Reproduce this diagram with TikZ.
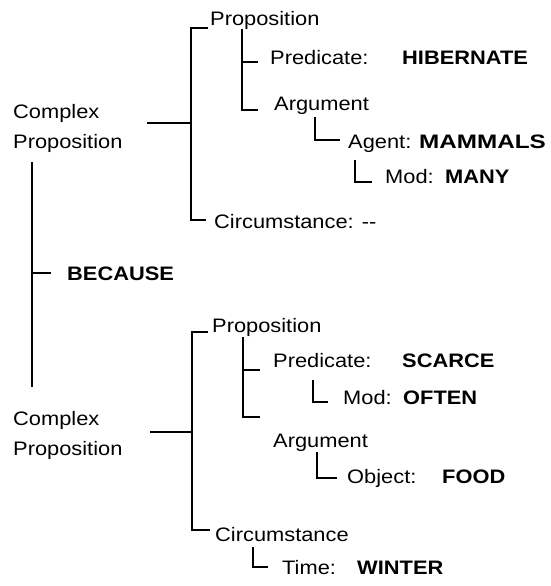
\documentclass[tikz,border=0pt]{standalone}
\usepackage{fontspec}
\setmainfont{Liberation Sans}[FakeStretch=1.12]
\begin{document}
\begin{tikzpicture}[x=1pt,y=-1pt,
  lbl/.style={anchor=base west,inner sep=0pt,font=\fontsize{19.5}{23}\selectfont},
  kw/.style={lbl,font=\fontsize{19.5}{23}\selectfont\bfseries},
  br/.style={line width=1.8pt,line cap=butt,line join=miter}]
\useasboundingbox (0,0) rectangle (551,586);
% ---------- upper half ----------
\node[lbl] (cp1a) at (13,118) {Complex};
\node[lbl] (cp1b) at (13,148) {Proposition};
\node[lbl] (prop1) at (210,26) {Proposition};
\node[lbl] (pred1) at (270,64) {Predicate:};
\node[kw]  (hib) at (402,64) {HIBERNATE};
\node[lbl] (arg1) at (274,110) {Argument};
\node[lbl] (agent) at (348,148) {Agent:};
\node[kw]  (mam) at (419,148) {\scalebox{1.11}[1]{MAMMALS}};
\node[lbl] (mod1) at (385,183) {Mod:};
\node[kw]  (many) at (445,183) {MANY};
\node[lbl] (circ1) at (214,228) {Circumstance: -{}-};
\node[kw]  (because) at (67,280) {BECAUSE};
% ---------- lower half ----------
\node[lbl] (cp2a) at (13,425) {Complex};
\node[lbl] (cp2b) at (13,455) {Proposition};
\node[lbl] (prop2) at (212,332) {Proposition};
\node[lbl] (pred2) at (273,367) {Predicate:};
\node[kw]  (scarce) at (402,367) {SCARCE};
\node[lbl] (mod2) at (343,404) {Mod:};
\node[kw]  (often) at (403,404) {OFTEN};
\node[lbl] (arg2) at (273,447) {Argument};
\node[lbl] (obj) at (347,483) {Object:};
\node[kw]  (food) at (442,483) {FOOD};
\node[lbl] (circ2) at (215,541) {Circumstance};
\node[lbl] (time) at (282,574) {Time:};
\node[kw]  (winter) at (357,574) {WINTER};
% ---------- coordinates ----------
\coordinate (a1) at (147,123); \coordinate (b1) at (191,123);
\coordinate (b1t) at (191,28); \coordinate (b1b) at (191,220);
\coordinate (p1) at (208,28); \coordinate (c1) at (206,220);
\coordinate (i1t) at (242,29); \coordinate (i1m) at (242,62); \coordinate (i1b) at (242,110);
\coordinate (i1me) at (258,62); \coordinate (i1be) at (258,110);
\coordinate (g1t) at (315,117); \coordinate (g1b) at (315,140); \coordinate (g1e) at (340,140);
\coordinate (m1t) at (355,160); \coordinate (m1b) at (355,182); \coordinate (m1e) at (372,182);
\coordinate (vt) at (32,162); \coordinate (vm) at (32,273); \coordinate (vb) at (32,387);
\coordinate (ve) at (51,273);
\coordinate (a2) at (150,432); \coordinate (b2) at (192,432);
\coordinate (b2t) at (192,332); \coordinate (b2b) at (192,530);
\coordinate (p2) at (208,332); \coordinate (c2) at (210,530);
\coordinate (i2t) at (243,337); \coordinate (i2m) at (243,370); \coordinate (i2b) at (243,417);
\coordinate (i2me) at (260,370); \coordinate (i2be) at (260,417);
\coordinate (o2t) at (313,380); \coordinate (o2b) at (313,402); \coordinate (o2e) at (328,402);
\coordinate (j2t) at (317,452); \coordinate (j2b) at (317,478); \coordinate (j2e) at (337,478);
\coordinate (t2t) at (253,547); \coordinate (t2b) at (253,567); \coordinate (t2e) at (268,567);
% ---------- connectors ----------
\draw[br] (a1) -- (b1);
\draw[br] (p1) -- (b1t) -- (b1b) -- (c1);
\draw[br] (i1t) -- (i1b) -- (i1be);
\draw[br] (i1m) -- (i1me);
\draw[br] (g1t) -- (g1b) -- (g1e);
\draw[br] (m1t) -- (m1b) -- (m1e);
\draw[br] (vt) -- (vb);
\draw[br] (vm) -- (ve);
\draw[br] (a2) -- (b2);
\draw[br] (p2) -- (b2t) -- (b2b) -- (c2);
\draw[br] (i2t) -- (i2b) -- (i2be);
\draw[br] (i2m) -- (i2me);
\draw[br] (o2t) -- (o2b) -- (o2e);
\draw[br] (j2t) -- (j2b) -- (j2e);
\draw[br] (t2t) -- (t2b) -- (t2e);
\end{tikzpicture}
\end{document}
